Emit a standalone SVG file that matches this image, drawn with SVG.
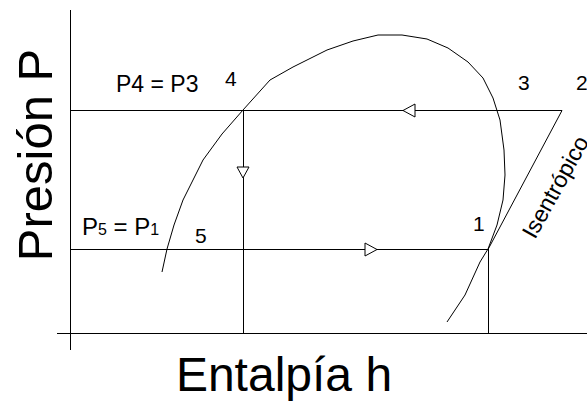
<svg xmlns="http://www.w3.org/2000/svg" width="587" height="401" viewBox="0 0 587 401">
<style>
.ln{stroke:#000;stroke-width:1;fill:none}
.ar{stroke:#000;stroke-width:1;fill:#fff}
text{font-family:"Liberation Sans",Arial,sans-serif;fill:#000}
.lb{font-size:23px}
.num{font-size:21px}
.ax{font-size:48px}
.sub{font-size:16px}
</style>
<rect width="587" height="401" fill="#fff"/>
<g id="connectors">
<line class="ln" x1="70.5" y1="10" x2="70.5" y2="350"/>
<line class="ln" x1="57" y1="333.5" x2="587" y2="333.5"/>
<line class="ln" x1="70" y1="110.5" x2="562" y2="110.5"/>
<line class="ln" x1="70" y1="249.5" x2="488" y2="249.5"/>
<line class="ln" x1="243.5" y1="110" x2="243.5" y2="333"/>
<line class="ln" x1="488.5" y1="249" x2="488.5" y2="333"/>
<line class="ln" x1="562" y1="110.5" x2="488" y2="249.5"/>
<polygon class="ar" points="403,110.5 415,104 415,117"/>
<polygon class="ar" points="237,167 249,167 243,178"/>
<polygon class="ar" points="377,249.5 365,243 365,256"/>
</g>
<g id="dome">
<polyline class="ln" points="162,272 167,249 174,225 183,200 203,160 222,134 243,110 270,80 293,67 327,50 353,41 378,35 402,35 427,39 448,48 468,62 483,78 493,98 500,120 504,150 505,175 503,200 497,225 488,249 480,262 465,295 447,322"/>
</g>
<g id="labels">
<text class="lb" x="116" y="92">P4 = P3</text>
<text class="num" x="225" y="86">4</text>
<text class="num" x="518" y="90">3</text>
<text class="num" x="576" y="90">2</text>
<text class="num" x="473" y="231">1</text>
<text class="num" x="195" y="243">5</text>
<text x="82" y="235"><tspan style="font-size:24px">P</tspan><tspan class="sub">5</tspan><tspan style="font-size:24px"> = P</tspan><tspan class="sub">1</tspan></text>
<text class="lb" transform="translate(535,240) rotate(-61)">Isentrópico</text>
</g>
<g id="axes-labels">
<text class="ax" x="284" y="391" text-anchor="middle">Entalpía h</text>
<text class="ax" transform="translate(52,155) rotate(-90)" text-anchor="middle" style="font-size:49px">Presión  P</text>
</g>
</svg>
